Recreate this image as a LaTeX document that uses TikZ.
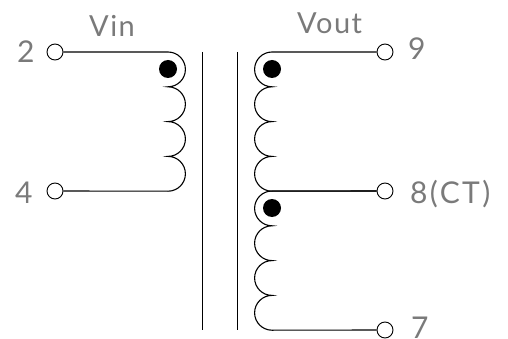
\documentclass[tikz,border=0pt]{standalone}
\usepackage{fontspec}
\setmainfont{Lato}
\newfontfamily\labfont[LetterSpace=5]{Lato}
\newfontfamily\labwide[LetterSpace=8]{Lato}
\tikzset{
  wire/.style={line width=1.1pt,black},
  term/.style={circle,draw=black,fill=white,line width=0.9pt,minimum size=16pt,inner sep=0pt},
  pol/.style={circle,fill=black,minimum size=18pt,inner sep=0pt},
  lbl/.style={anchor=base west,inner sep=0pt,text=black!52,font=\labfont\fontsize{30}{32}\selectfont},
  lblv/.style={lbl,font=\labfont\fontsize{29}{32}\selectfont},
  lblw/.style={lbl,font=\labwide\fontsize{30}{32}\selectfont}
}
\begin{document}
\begin{tikzpicture}[x=1pt,y=-1pt]
\useasboundingbox (0,0) rectangle (508,339);
% core
\coordinate (c1t) at (202,52); \coordinate (c1b) at (202,330);
\coordinate (c2t) at (237,52); \coordinate (c2b) at (237,330);
\draw[line width=0.9pt] (c1t) -- (c1b);
\draw[line width=0.9pt] (c2t) -- (c2b);
% terminals
\node[term] (t2) at (55,52) {};
\node[term] (t4) at (55,191) {};
\node[term] (t9) at (385,52) {};
\node[term] (t8) at (385,191) {};
\node[term] (t7) at (385,330) {};
% windings
\draw[wire] (t2.east) -- (168,52)
  arc[start angle=90,end angle=-90,radius=17.4pt]
  arc[start angle=90,end angle=-90,radius=17.4pt]
  arc[start angle=90,end angle=-90,radius=17.4pt]
  arc[start angle=90,end angle=-90,radius=17.4pt]
  -- (t4.east);
\draw[wire] (t9.west) -- (272,52)
  arc[start angle=90,end angle=270,radius=17.4pt]
  arc[start angle=90,end angle=270,radius=17.4pt]
  arc[start angle=90,end angle=270,radius=17.4pt]
  arc[start angle=90,end angle=270,radius=17.4pt]
  -- (t8.west);
\draw[wire] (t8.west) -- (272,191)
  arc[start angle=90,end angle=270,radius=17.4pt]
  arc[start angle=90,end angle=270,radius=17.4pt]
  arc[start angle=90,end angle=270,radius=17.4pt]
  arc[start angle=90,end angle=270,radius=17.4pt]
  -- (t7.west);
% dots
\node[pol] (d1) at (168,69) {};
\node[pol] (d2) at (272,69) {};
\node[pol] (d3) at (272,208) {};
% labels
\node[lblv] (vin) at (89,37) {Vin};
\node[lblv] (vout) at (297,34) {Vout};
\node[lbl] (l2) at (17,63) {2};
\node[lbl] (l4) at (15,204) {4};
\node[lbl] (l9) at (408,60) {9};
\node[lblw] (l8) at (410,203) {8(CT)};
\node[lbl] (l7) at (411,338) {7};
\end{tikzpicture}
\end{document}
